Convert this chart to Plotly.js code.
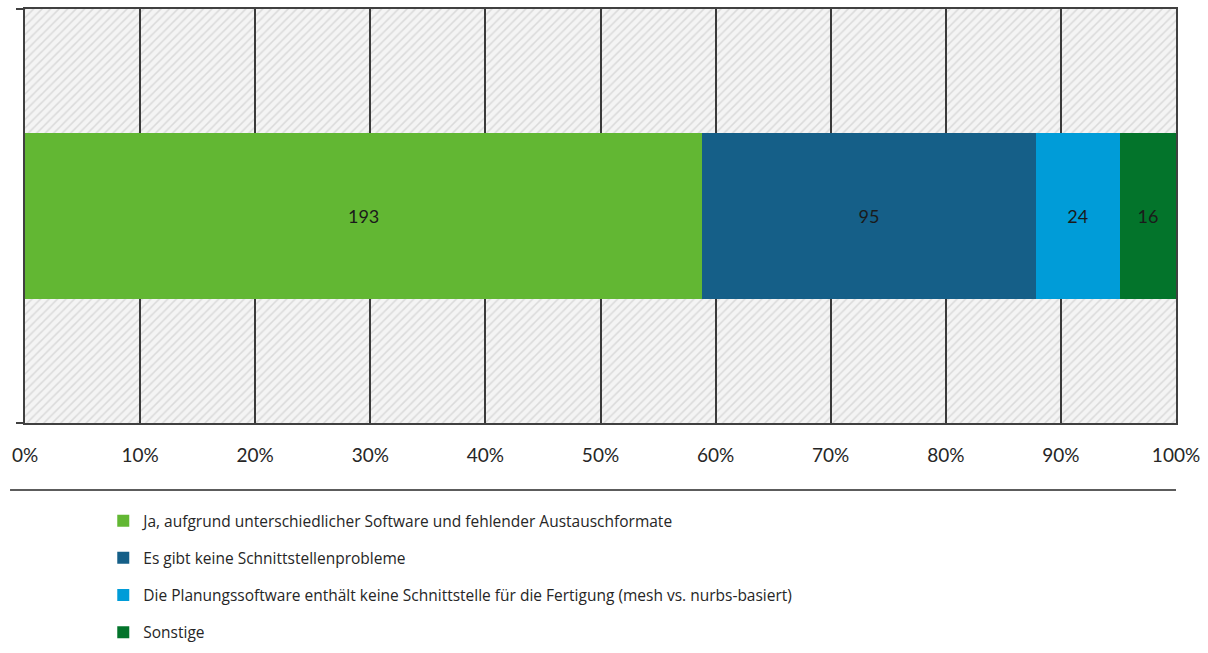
<!DOCTYPE html>
<html>
<head>
<meta charset="utf-8">
<script src="https://cdn.plot.ly/plotly-3.0.1.min.js"></script>
<style>html,body{margin:0;padding:0;background:#fff;}#chart{width:1208px;height:653px;}</style>
</head>
<body>
<div id="chart"></div>
<script>
const categories = [
  "Ja, aufgrund unterschiedlicher Software und fehlender Austauschformate",
  "Es gibt keine Schnittstellenprobleme",
  "Die Planungssoftware enthält keine Schnittstelle für die Fertigung (mesh vs. nurbs-basiert)",
  "Sonstige"
];
const counts = [193, 95, 24, 16];
const colors = ["#62b733", "#155f88", "#009cd8", "#03742b"];
const tickValues = [0, 10, 20, 30, 40, 50, 60, 70, 80, 90, 100];
const tickLabels = tickValues.map(v => v + "%");

const FONT = "Lato, 'Open Sans', sans-serif";
const LEGFONT = "'Open Sans', Lato, sans-serif";

// hatched plot background (base subplot)
const traces = [{
  type: "bar", orientation: "h", x: [100], y: [0], width: 1,
  xaxis: "x", yaxis: "y", showlegend: false, hoverinfo: "skip",
  marker: {color: "#f3f3f3", line: {width: 0},
           pattern: {shape: "/", fgcolor: "#dadada", bgcolor: "#f4f4f4", size: 6, solidity: 0.25}}
}];

categories.forEach((name, i) => {
  traces.push({
    type: "bar", orientation: "h", name: name,
    x: [counts[i]], y: [0], width: 0.4,
    xaxis: "x2", yaxis: "y2",
    text: [String(counts[i])], textposition: "inside", insidetextanchor: "middle",
    textfont: {color: "#1a1a1a", size: 18, family: FONT},
    marker: {color: colors[i], line: {width: 0}},
    legendgroup: "g" + i,
    hovertemplate: name + ": %{text}<extra></extra>"
  });
});

const layout = {
  width: 1208, height: 653,
  margin: {l: 25, r: 32, t: 9, b: 230, autoexpand: false},
  paper_bgcolor: "#ffffff", plot_bgcolor: "rgba(0,0,0,0)",
  barmode: "stack", barnorm: "percent",
  font: {family: FONT, color: "#262626"},
  xaxis: {domain: [0, 1], range: [0, 100], showgrid: false, zeroline: false, showticklabels: false, ticks: "", fixedrange: true},
  yaxis: {domain: [0, 1], range: [-0.5, 0.5], showgrid: false, zeroline: false, showticklabels: false, ticks: "", fixedrange: true},
  xaxis2: {domain: [0, 1], anchor: "y2", range: [0, 100], tickmode: "array", tickvals: tickValues, ticktext: tickLabels,
           showgrid: true, gridcolor: "#3a3a3a", gridwidth: 1.5, zeroline: false,
           showline: true, linecolor: "#404040", linewidth: 2, mirror: true,
           ticks: "", ticklabelstandoff: 14, tickfont: {size: 19, color: "#262626", family: FONT}, fixedrange: true},
  yaxis2: {domain: [0, 1], anchor: "x2", range: [-0.5, 0.5], tickmode: "array", tickvals: [-0.5, 0.5],
           showticklabels: false, ticks: "outside", ticklen: 7, tickwidth: 2, tickcolor: "#404040",
           showgrid: false, zeroline: false, showline: true, linecolor: "#404040", linewidth: 2, mirror: true, fixedrange: true},
  showlegend: true,
  legend: {orientation: "v", x: 0.068, xanchor: "left", y: -0.196, yanchor: "top",
           traceorder: "grouped", tracegroupgap: 14, font: {size: 15.5, color: "#262626", family: LEGFONT},
           bgcolor: "rgba(0,0,0,0)", itemclick: false, itemdoubleclick: false},
  shapes: [{type: "line", xref: "paper", yref: "paper", x0: -0.013, x1: 1.0, y0: -0.162, y1: -0.162,
            line: {color: "#262626", width: 1.5}}]
};

Plotly.newPlot("chart", traces, layout, {displayModeBar: false});
</script>
</body>
</html>
